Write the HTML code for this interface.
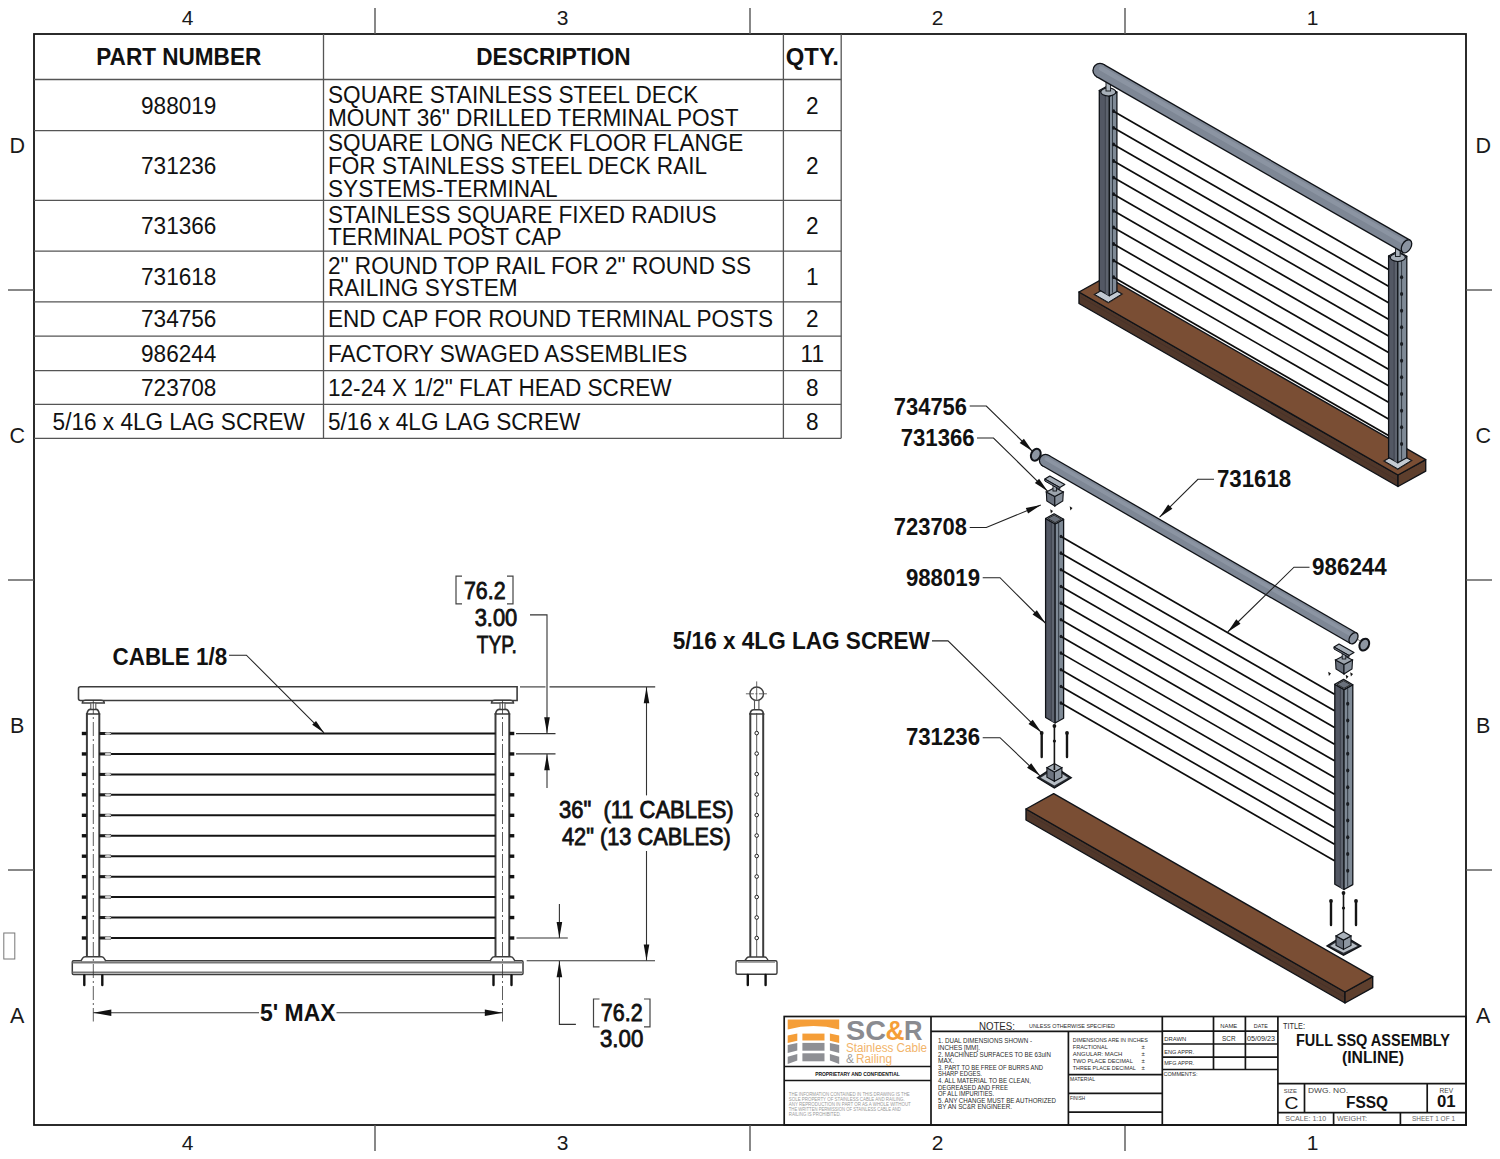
<!DOCTYPE html>
<html><head><meta charset="utf-8"><title>FULL SSQ ASSEMBLY</title>
<style>
html,body{margin:0;padding:0;background:#fff;width:1500px;height:1159px;overflow:hidden}
svg{display:block;font-family:"Liberation Sans", sans-serif}
</style></head><body>
<svg width="1500" height="1159" viewBox="0 0 1500 1159">
<rect x="0" y="0" width="1500" height="1159" fill="#fff"/>
<rect x="34" y="34" width="1432" height="1091" fill="none" stroke="#151515" stroke-width="1.8"/>
<line x1="375" y1="8" x2="375" y2="34" stroke="#555" stroke-width="1.4"/>
<line x1="375" y1="1125" x2="375" y2="1151" stroke="#555" stroke-width="1.4"/>
<line x1="750" y1="8" x2="750" y2="34" stroke="#555" stroke-width="1.4"/>
<line x1="750" y1="1125" x2="750" y2="1151" stroke="#555" stroke-width="1.4"/>
<line x1="1125" y1="8" x2="1125" y2="34" stroke="#555" stroke-width="1.4"/>
<line x1="1125" y1="1125" x2="1125" y2="1151" stroke="#555" stroke-width="1.4"/>
<line x1="8" y1="290" x2="34" y2="290" stroke="#555" stroke-width="1.4"/>
<line x1="1466" y1="290" x2="1492" y2="290" stroke="#555" stroke-width="1.4"/>
<line x1="8" y1="580" x2="34" y2="580" stroke="#555" stroke-width="1.4"/>
<line x1="1466" y1="580" x2="1492" y2="580" stroke="#555" stroke-width="1.4"/>
<line x1="8" y1="870" x2="34" y2="870" stroke="#555" stroke-width="1.4"/>
<line x1="1466" y1="870" x2="1492" y2="870" stroke="#555" stroke-width="1.4"/>
<text x="187.5" y="25" font-size="21" text-anchor="middle" fill="#1a1a1a">4</text>
<text x="187.5" y="1149.5" font-size="21" text-anchor="middle" fill="#1a1a1a">4</text>
<text x="562.5" y="25" font-size="21" text-anchor="middle" fill="#1a1a1a">3</text>
<text x="562.5" y="1149.5" font-size="21" text-anchor="middle" fill="#1a1a1a">3</text>
<text x="937.5" y="25" font-size="21" text-anchor="middle" fill="#1a1a1a">2</text>
<text x="937.5" y="1149.5" font-size="21" text-anchor="middle" fill="#1a1a1a">2</text>
<text x="1312.5" y="25" font-size="21" text-anchor="middle" fill="#1a1a1a">1</text>
<text x="1312.5" y="1149.5" font-size="21" text-anchor="middle" fill="#1a1a1a">1</text>
<text x="17.2" y="152.8" font-size="21.5" text-anchor="middle" fill="#1a1a1a">D</text>
<text x="1483.2" y="152.8" font-size="21.5" text-anchor="middle" fill="#1a1a1a">D</text>
<text x="17.2" y="442.8" font-size="21.5" text-anchor="middle" fill="#1a1a1a">C</text>
<text x="1483.2" y="442.8" font-size="21.5" text-anchor="middle" fill="#1a1a1a">C</text>
<text x="17.2" y="732.8" font-size="21.5" text-anchor="middle" fill="#1a1a1a">B</text>
<text x="1483.2" y="732.8" font-size="21.5" text-anchor="middle" fill="#1a1a1a">B</text>
<text x="17.2" y="1022.8" font-size="21.5" text-anchor="middle" fill="#1a1a1a">A</text>
<text x="1483.2" y="1022.8" font-size="21.5" text-anchor="middle" fill="#1a1a1a">A</text>
<rect x="3.8" y="933" width="11" height="26" fill="none" stroke="#777" stroke-width="1"/>
<line x1="323.5" y1="34" x2="323.5" y2="438.3" stroke="#555" stroke-width="1.3"/>
<line x1="783.4" y1="34" x2="783.4" y2="438.3" stroke="#555" stroke-width="1.3"/>
<line x1="841.2" y1="34" x2="841.2" y2="438.3" stroke="#555" stroke-width="1.3"/>
<line x1="34" y1="79.5" x2="841.2" y2="79.5" stroke="#555" stroke-width="1.3"/>
<line x1="34" y1="130.6" x2="841.2" y2="130.6" stroke="#555" stroke-width="1.3"/>
<line x1="34" y1="200.4" x2="841.2" y2="200.4" stroke="#555" stroke-width="1.3"/>
<line x1="34" y1="251.2" x2="841.2" y2="251.2" stroke="#555" stroke-width="1.3"/>
<line x1="34" y1="301.8" x2="841.2" y2="301.8" stroke="#555" stroke-width="1.3"/>
<line x1="34" y1="336.2" x2="841.2" y2="336.2" stroke="#555" stroke-width="1.3"/>
<line x1="34" y1="370.6" x2="841.2" y2="370.6" stroke="#555" stroke-width="1.3"/>
<line x1="34" y1="404.4" x2="841.2" y2="404.4" stroke="#555" stroke-width="1.3"/>
<line x1="34" y1="438.3" x2="841.2" y2="438.3" stroke="#555" stroke-width="1.3"/>
<text x="178.75" y="65" font-size="22.6" text-anchor="middle" font-weight="bold" fill="#111" textLength="165" lengthAdjust="spacingAndGlyphs" transform="matrix(1 0 0 1.07 0 -4.55)">PART NUMBER</text>
<text x="553.5" y="65" font-size="22.6" text-anchor="middle" font-weight="bold" fill="#111" transform="matrix(1 0 0 1.07 0 -4.55)">DESCRIPTION</text>
<text x="812.3" y="65" font-size="22.6" text-anchor="middle" font-weight="bold" fill="#111" textLength="53" lengthAdjust="spacingAndGlyphs" transform="matrix(1 0 0 1.07 0 -4.55)">QTY.</text>
<text x="178.75" y="114" font-size="22.6" text-anchor="middle" fill="#111" transform="matrix(1 0 0 1.07 0 -7.98)">988019</text>
<text x="328" y="103.4" font-size="22.6" fill="#111" transform="matrix(1 0 0 1.07 0 -7.24)">SQUARE STAINLESS STEEL DECK</text>
<text x="328" y="125.8" font-size="22.6" fill="#111" transform="matrix(1 0 0 1.07 0 -8.81)">MOUNT 36&quot; DRILLED TERMINAL POST</text>
<text x="812.3" y="114" font-size="22.6" text-anchor="middle" fill="#111" transform="matrix(1 0 0 1.07 0 -7.98)">2</text>
<text x="178.75" y="174" font-size="22.6" text-anchor="middle" fill="#111" transform="matrix(1 0 0 1.07 0 -12.18)">731236</text>
<text x="328" y="151.2" font-size="22.6" fill="#111" transform="matrix(1 0 0 1.07 0 -10.58)">SQUARE LONG NECK FLOOR FLANGE</text>
<text x="328" y="173.9" font-size="22.6" fill="#111" transform="matrix(1 0 0 1.07 0 -12.17)">FOR STAINLESS STEEL DECK RAIL</text>
<text x="328" y="196.6" font-size="22.6" fill="#111" transform="matrix(1 0 0 1.07 0 -13.76)">SYSTEMS-TERMINAL</text>
<text x="812.3" y="174" font-size="22.6" text-anchor="middle" fill="#111" transform="matrix(1 0 0 1.07 0 -12.18)">2</text>
<text x="178.75" y="234" font-size="22.6" text-anchor="middle" fill="#111" transform="matrix(1 0 0 1.07 0 -16.38)">731366</text>
<text x="328" y="222.8" font-size="22.6" fill="#111" transform="matrix(1 0 0 1.07 0 -15.6)">STAINLESS SQUARE FIXED RADIUS</text>
<text x="328" y="245.2" font-size="22.6" fill="#111" transform="matrix(1 0 0 1.07 0 -17.16)">TERMINAL POST CAP</text>
<text x="812.3" y="234" font-size="22.6" text-anchor="middle" fill="#111" transform="matrix(1 0 0 1.07 0 -16.38)">2</text>
<text x="178.75" y="285" font-size="22.6" text-anchor="middle" fill="#111" transform="matrix(1 0 0 1.07 0 -19.95)">731618</text>
<text x="328" y="273.6" font-size="22.6" fill="#111" transform="matrix(1 0 0 1.07 0 -19.15)">2&quot; ROUND TOP RAIL FOR 2&quot; ROUND SS</text>
<text x="328" y="296" font-size="22.6" fill="#111" transform="matrix(1 0 0 1.07 0 -20.72)">RAILING SYSTEM</text>
<text x="812.3" y="285" font-size="22.6" text-anchor="middle" fill="#111" transform="matrix(1 0 0 1.07 0 -19.95)">1</text>
<text x="178.75" y="327.5" font-size="22.6" text-anchor="middle" fill="#111" transform="matrix(1 0 0 1.07 0 -22.93)">734756</text>
<text x="328" y="327.5" font-size="22.6" fill="#111" transform="matrix(1 0 0 1.07 0 -22.93)">END CAP FOR ROUND TERMINAL POSTS</text>
<text x="812.3" y="327.5" font-size="22.6" text-anchor="middle" fill="#111" transform="matrix(1 0 0 1.07 0 -22.93)">2</text>
<text x="178.75" y="361.8" font-size="22.6" text-anchor="middle" fill="#111" transform="matrix(1 0 0 1.07 0 -25.33)">986244</text>
<text x="328" y="361.8" font-size="22.6" fill="#111" transform="matrix(1 0 0 1.07 0 -25.33)">FACTORY SWAGED ASSEMBLIES</text>
<text x="812.3" y="361.8" font-size="22.6" text-anchor="middle" fill="#111" transform="matrix(1 0 0 1.07 0 -25.33)">11</text>
<text x="178.75" y="395.7" font-size="22.6" text-anchor="middle" fill="#111" transform="matrix(1 0 0 1.07 0 -27.7)">723708</text>
<text x="328" y="395.7" font-size="22.6" fill="#111" transform="matrix(1 0 0 1.07 0 -27.7)">12-24 X 1/2&quot; FLAT HEAD SCREW</text>
<text x="812.3" y="395.7" font-size="22.6" text-anchor="middle" fill="#111" transform="matrix(1 0 0 1.07 0 -27.7)">8</text>
<text x="178.75" y="429.8" font-size="22.6" text-anchor="middle" fill="#111" transform="matrix(1 0 0 1.07 0 -30.09)">5/16 x 4LG LAG SCREW</text>
<text x="328" y="429.8" font-size="22.6" fill="#111" transform="matrix(1 0 0 1.07 0 -30.09)">5/16 x 4LG LAG SCREW</text>
<text x="812.3" y="429.8" font-size="22.6" text-anchor="middle" fill="#111" transform="matrix(1 0 0 1.07 0 -30.09)">8</text>
<polygon points="1079,292 1398,475 1398,486.5 1079,303.5" fill="#50372a" stroke="#101318" stroke-width="1.4" stroke-linejoin="round"/>
<polygon points="1398,475 1425.7,459.7 1425.7,471.2 1398,486.5" fill="#5e3f2d" stroke="#101318" stroke-width="1.4" stroke-linejoin="round"/>
<polygon points="1079,292 1398,475 1425.7,459.7 1106.7,276.7" fill="#7a4e34" stroke="#101318" stroke-width="1.4" stroke-linejoin="round"/>
<line x1="1081" y1="297.18" x2="1397" y2="480.18" stroke="#46302a" stroke-width="0.7"/>
<polygon points="1093.15,294.5 1108.3,303.57 1123.45,294 1108.3,285.43" fill="#2b2420" stroke="none" stroke-width="1" stroke-linejoin="round"/>
<polygon points="1094.65,294.5 1108.3,302.38 1121.95,294 1108.3,286.62" fill="#c3cad2" stroke="#101318" stroke-width="1"/>
<polygon points="1099.3,90.5 1109.3,96.24 1109.3,295.74 1099.3,290" fill="#535864" stroke="#101318" stroke-width="1.3" stroke-linejoin="round"/>
<polygon points="1105.3,94.94 1108.7,96.24 1108.7,295.74 1105.3,293.44" fill="#5d636e" stroke="none" stroke-width="1"/>
<line x1="1105.3" y1="94.94" x2="1105.3" y2="293.44" stroke="#3b404a" stroke-width="0.9"/>
<polygon points="1109.3,96.24 1116.9,92.03 1116.9,291.53 1109.3,295.74" fill="#7f8a96" stroke="#101318" stroke-width="1.3" stroke-linejoin="round"/>
<line x1="1112.49" y1="94.24" x2="1112.49" y2="292.74" stroke="#333b44" stroke-width="1"/>
<polygon points="1099.3,90.5 1109.3,96.24 1116.9,92.03 1106.9,86.3" fill="#9aa3ad" stroke="#101318" stroke-width="1.3" stroke-linejoin="round"/>
<line x1="1113.5" y1="111.2" x2="1388.5" y2="269.56" stroke="#0c0c0c" stroke-width="1.7"/>
<line x1="1113.5" y1="127.8" x2="1388.5" y2="286.16" stroke="#0c0c0c" stroke-width="1.7"/>
<line x1="1113.5" y1="144.4" x2="1388.5" y2="302.76" stroke="#0c0c0c" stroke-width="1.7"/>
<line x1="1113.5" y1="161" x2="1388.5" y2="319.36" stroke="#0c0c0c" stroke-width="1.7"/>
<line x1="1113.5" y1="177.6" x2="1388.5" y2="335.96" stroke="#0c0c0c" stroke-width="1.7"/>
<line x1="1113.5" y1="194.2" x2="1388.5" y2="352.56" stroke="#0c0c0c" stroke-width="1.7"/>
<line x1="1113.5" y1="210.8" x2="1388.5" y2="369.16" stroke="#0c0c0c" stroke-width="1.7"/>
<line x1="1113.5" y1="227.4" x2="1388.5" y2="385.76" stroke="#0c0c0c" stroke-width="1.7"/>
<line x1="1113.5" y1="244" x2="1388.5" y2="402.36" stroke="#0c0c0c" stroke-width="1.7"/>
<line x1="1113.5" y1="260.6" x2="1388.5" y2="418.96" stroke="#0c0c0c" stroke-width="1.7"/>
<line x1="1113.5" y1="277.2" x2="1388.5" y2="435.56" stroke="#0c0c0c" stroke-width="1.7"/>
<ellipse cx="1113.6" cy="111.2" rx="1.5" ry="1.9" fill="#14171c"/>
<ellipse cx="1113.6" cy="127.8" rx="1.5" ry="1.9" fill="#14171c"/>
<ellipse cx="1113.6" cy="144.4" rx="1.5" ry="1.9" fill="#14171c"/>
<ellipse cx="1113.6" cy="161" rx="1.5" ry="1.9" fill="#14171c"/>
<ellipse cx="1113.6" cy="177.6" rx="1.5" ry="1.9" fill="#14171c"/>
<ellipse cx="1113.6" cy="194.2" rx="1.5" ry="1.9" fill="#14171c"/>
<ellipse cx="1113.6" cy="210.8" rx="1.5" ry="1.9" fill="#14171c"/>
<ellipse cx="1113.6" cy="227.4" rx="1.5" ry="1.9" fill="#14171c"/>
<ellipse cx="1113.6" cy="244" rx="1.5" ry="1.9" fill="#14171c"/>
<ellipse cx="1113.6" cy="260.6" rx="1.5" ry="1.9" fill="#14171c"/>
<ellipse cx="1113.6" cy="277.2" rx="1.5" ry="1.9" fill="#14171c"/>
<polygon points="1382.65,461 1397.8,470.07 1412.95,460.5 1397.8,451.93" fill="#2b2420" stroke="none" stroke-width="1" stroke-linejoin="round"/>
<polygon points="1384.15,461 1397.8,468.88 1411.45,460.5 1397.8,453.12" fill="#c3cad2" stroke="#101318" stroke-width="1"/>
<polygon points="1388.6,256 1397.8,261.28 1397.8,462.78 1388.6,457.5" fill="#535864" stroke="#101318" stroke-width="1.3" stroke-linejoin="round"/>
<polygon points="1394.12,260.17 1397.2,261.28 1397.2,462.78 1394.12,460.67" fill="#5d636e" stroke="none" stroke-width="1"/>
<line x1="1394.12" y1="260.17" x2="1394.12" y2="460.67" stroke="#3b404a" stroke-width="0.9"/>
<polygon points="1397.8,261.28 1406.8,256.3 1406.8,457.8 1397.8,462.78" fill="#7f8a96" stroke="#101318" stroke-width="1.3" stroke-linejoin="round"/>
<line x1="1401.58" y1="259.28" x2="1401.58" y2="459.78" stroke="#333b44" stroke-width="1"/>
<polygon points="1388.6,256 1397.8,261.28 1406.8,256.3 1397.6,251.02" fill="#9aa3ad" stroke="#101318" stroke-width="1.3" stroke-linejoin="round"/>
<ellipse cx="1401.58" cy="277.3" rx="1.6" ry="2" fill="#1a1d22"/>
<ellipse cx="1401.58" cy="293.97" rx="1.6" ry="2" fill="#1a1d22"/>
<ellipse cx="1401.58" cy="310.64" rx="1.6" ry="2" fill="#1a1d22"/>
<ellipse cx="1401.58" cy="327.31" rx="1.6" ry="2" fill="#1a1d22"/>
<ellipse cx="1401.58" cy="343.98" rx="1.6" ry="2" fill="#1a1d22"/>
<ellipse cx="1401.58" cy="360.65" rx="1.6" ry="2" fill="#1a1d22"/>
<ellipse cx="1401.58" cy="377.32" rx="1.6" ry="2" fill="#1a1d22"/>
<ellipse cx="1401.58" cy="393.99" rx="1.6" ry="2" fill="#1a1d22"/>
<ellipse cx="1401.58" cy="410.66" rx="1.6" ry="2" fill="#1a1d22"/>
<ellipse cx="1401.58" cy="427.33" rx="1.6" ry="2" fill="#1a1d22"/>
<ellipse cx="1401.58" cy="444" rx="1.6" ry="2" fill="#1a1d22"/>
<ellipse cx="1108.3" cy="92" rx="7.5" ry="4" fill="#a7afb8" stroke="#101318" stroke-width="1.1"/>
<rect x="1106" y="82" width="4.6" height="9" fill="#aab2bb" stroke="#101318" stroke-width="0.9"/>
<ellipse cx="1397.8" cy="257.5" rx="7.5" ry="4" fill="#a7afb8" stroke="#101318" stroke-width="1.1"/>
<rect x="1395.5" y="247.5" width="4.6" height="9" fill="#aab2bb" stroke="#101318" stroke-width="0.9"/>
<line x1="1100" y1="70.5" x2="1406.5" y2="246.3" stroke="#101318" stroke-width="15.4"/>
<circle cx="1100" cy="70.5" r="7.7" fill="#101318"/>
<line x1="1100" y1="70.5" x2="1406.5" y2="246.3" stroke="#7e8795" stroke-width="12.8"/>
<circle cx="1100" cy="70.5" r="6.4" fill="#7e8795"/>
<line x1="1101.11" y1="68.56" x2="1405.88" y2="243.36" stroke="#97a0ad" stroke-width="4.48" stroke-linecap="round" opacity="0.55"/>
<ellipse cx="1406.5" cy="246.3" rx="4.47" ry="7.1" fill="#8a93a0" stroke="#101318" stroke-width="1.3" transform="rotate(30 1406.5 246.3)"/>
<polygon points="1026,809 1345,992 1345,1003 1026,820" fill="#50372a" stroke="#101318" stroke-width="1.4" stroke-linejoin="round"/>
<polygon points="1345,992 1372.7,976.7 1372.7,987.7 1345,1003" fill="#5e3f2d" stroke="#101318" stroke-width="1.4" stroke-linejoin="round"/>
<polygon points="1026,809 1345,992 1372.7,976.7 1053.7,793.7" fill="#7a4e34" stroke="#101318" stroke-width="1.4" stroke-linejoin="round"/>
<line x1="1028" y1="813.95" x2="1344" y2="996.95" stroke="#46302a" stroke-width="0.7"/>
<polygon points="1037.5,777.75 1054.4,788 1071.2,777.75 1054.4,766.5" fill="#2a2d33" stroke="#101318" stroke-width="1.4"/>
<polygon points="1040.7,777.75 1054.4,785.4 1068,777.75 1054.4,769.1" fill="#b7bec6" stroke="none" stroke-width="0.7"/>
<polygon points="1046.9,767.75 1054.4,771.95 1054.4,781.25 1046.9,777.25" fill="#6d7480" stroke="#101318" stroke-width="1.1"/>
<polygon points="1054.4,771.95 1061.9,767.75 1061.9,777.25 1054.4,781.25" fill="#8d96a1" stroke="#101318" stroke-width="1.1"/>
<polygon points="1046.9,767.75 1054.4,763.55 1061.9,767.75 1054.4,771.95" fill="#a9b1ba" stroke="#101318" stroke-width="1.1"/>
<polygon points="1327,945.9 1343.5,955.3 1360.8,945.9 1343.5,935.5" fill="#2a2d33" stroke="#101318" stroke-width="1.4"/>
<polygon points="1330.2,945.9 1343.5,952.7 1357.6,945.9 1343.5,938.1" fill="#b7bec6" stroke="none" stroke-width="0.7"/>
<polygon points="1336,935.9 1343.5,940.1 1343.5,949.4 1336,945.4" fill="#6d7480" stroke="#101318" stroke-width="1.1"/>
<polygon points="1343.5,940.1 1351,935.9 1351,945.4 1343.5,949.4" fill="#8d96a1" stroke="#101318" stroke-width="1.1"/>
<polygon points="1336,935.9 1343.5,931.7 1351,935.9 1343.5,940.1" fill="#a9b1ba" stroke="#101318" stroke-width="1.1"/>
<line x1="1041.7" y1="733" x2="1041.7" y2="757" stroke="#151515" stroke-width="2.4" stroke-linecap="round"/>
<circle cx="1041.7" cy="733" r="1.9" fill="#151515"/>
<line x1="1067" y1="733" x2="1067" y2="757" stroke="#151515" stroke-width="2.4" stroke-linecap="round"/>
<circle cx="1067" cy="733" r="1.9" fill="#151515"/>
<line x1="1054.4" y1="726" x2="1054.4" y2="770" stroke="#151515" stroke-width="1.6"/>
<circle cx="1054.4" cy="726" r="1.9" fill="#151515"/>
<circle cx="1054.4" cy="741" r="1.6" fill="#151515"/>
<line x1="1331" y1="901" x2="1331" y2="925" stroke="#151515" stroke-width="2.4" stroke-linecap="round"/>
<circle cx="1331" cy="901" r="1.9" fill="#151515"/>
<line x1="1356" y1="901" x2="1356" y2="925" stroke="#151515" stroke-width="2.4" stroke-linecap="round"/>
<circle cx="1356" cy="901" r="1.9" fill="#151515"/>
<line x1="1343.5" y1="893" x2="1343.5" y2="932" stroke="#151515" stroke-width="1.6"/>
<circle cx="1343.5" cy="893" r="1.9" fill="#151515"/>
<circle cx="1343.5" cy="908" r="1.6" fill="#151515"/>
<polygon points="1045.6,518.5 1055.1,523.95 1055.1,722.95 1045.6,717.5" fill="#535864" stroke="#101318" stroke-width="1.3" stroke-linejoin="round"/>
<polygon points="1051.3,522.77 1054.5,523.95 1054.5,722.95 1051.3,720.77" fill="#5d636e" stroke="none" stroke-width="1"/>
<line x1="1051.3" y1="522.77" x2="1051.3" y2="720.77" stroke="#3b404a" stroke-width="0.9"/>
<polygon points="1055.1,523.95 1063.6,519.25 1063.6,718.25 1055.1,722.95" fill="#7f8a96" stroke="#101318" stroke-width="1.3" stroke-linejoin="round"/>
<line x1="1058.67" y1="521.95" x2="1058.67" y2="719.95" stroke="#333b44" stroke-width="1"/>
<polygon points="1045.6,518.5 1055.1,523.95 1063.6,519.25 1054.1,513.8" fill="#9aa3ad" stroke="#101318" stroke-width="1.3" stroke-linejoin="round"/>
<polygon points="1047.8,518.5 1055.1,522.63 1061.4,519.25 1054.1,515.12" fill="#6a717c" stroke="#222" stroke-width="0.9"/>
<polygon points="1334.8,684.3 1344,689.58 1344,889.48 1334.8,884.2" fill="#535864" stroke="#101318" stroke-width="1.3" stroke-linejoin="round"/>
<polygon points="1340.32,688.47 1343.4,689.58 1343.4,889.48 1340.32,887.37" fill="#5d636e" stroke="none" stroke-width="1"/>
<line x1="1340.32" y1="688.47" x2="1340.32" y2="887.37" stroke="#3b404a" stroke-width="0.9"/>
<polygon points="1344,689.58 1352.8,684.71 1352.8,884.61 1344,889.48" fill="#7f8a96" stroke="#101318" stroke-width="1.3" stroke-linejoin="round"/>
<line x1="1347.7" y1="687.58" x2="1347.7" y2="886.48" stroke="#333b44" stroke-width="1"/>
<polygon points="1334.8,684.3 1344,689.58 1352.8,684.71 1343.6,679.43" fill="#9aa3ad" stroke="#101318" stroke-width="1.3" stroke-linejoin="round"/>
<polygon points="1337,684.3 1344,688.26 1350.6,684.71 1343.6,680.75" fill="#6a717c" stroke="#222" stroke-width="0.9"/>
<ellipse cx="1347.7" cy="703.7" rx="1.6" ry="2" fill="#1a1d22"/>
<ellipse cx="1347.7" cy="720.4" rx="1.6" ry="2" fill="#1a1d22"/>
<ellipse cx="1347.7" cy="737.1" rx="1.6" ry="2" fill="#1a1d22"/>
<ellipse cx="1347.7" cy="753.8" rx="1.6" ry="2" fill="#1a1d22"/>
<ellipse cx="1347.7" cy="770.5" rx="1.6" ry="2" fill="#1a1d22"/>
<ellipse cx="1347.7" cy="787.2" rx="1.6" ry="2" fill="#1a1d22"/>
<ellipse cx="1347.7" cy="803.9" rx="1.6" ry="2" fill="#1a1d22"/>
<ellipse cx="1347.7" cy="820.6" rx="1.6" ry="2" fill="#1a1d22"/>
<ellipse cx="1347.7" cy="837.3" rx="1.6" ry="2" fill="#1a1d22"/>
<ellipse cx="1347.7" cy="854" rx="1.6" ry="2" fill="#1a1d22"/>
<ellipse cx="1347.7" cy="870.7" rx="1.6" ry="2" fill="#1a1d22"/>
<line x1="1061" y1="536.5" x2="1334.5" y2="694.2" stroke="#0c0c0c" stroke-width="1.7"/>
<ellipse cx="1061" cy="536.5" rx="1.4" ry="1.8" fill="#14171c"/>
<line x1="1061" y1="553.16" x2="1334.5" y2="710.86" stroke="#0c0c0c" stroke-width="1.7"/>
<ellipse cx="1061" cy="553.16" rx="1.4" ry="1.8" fill="#14171c"/>
<line x1="1061" y1="569.82" x2="1334.5" y2="727.52" stroke="#0c0c0c" stroke-width="1.7"/>
<ellipse cx="1061" cy="569.82" rx="1.4" ry="1.8" fill="#14171c"/>
<line x1="1061" y1="586.48" x2="1334.5" y2="744.18" stroke="#0c0c0c" stroke-width="1.7"/>
<ellipse cx="1061" cy="586.48" rx="1.4" ry="1.8" fill="#14171c"/>
<line x1="1061" y1="603.14" x2="1334.5" y2="760.84" stroke="#0c0c0c" stroke-width="1.7"/>
<ellipse cx="1061" cy="603.14" rx="1.4" ry="1.8" fill="#14171c"/>
<line x1="1061" y1="619.8" x2="1334.5" y2="777.5" stroke="#0c0c0c" stroke-width="1.7"/>
<ellipse cx="1061" cy="619.8" rx="1.4" ry="1.8" fill="#14171c"/>
<line x1="1061" y1="636.46" x2="1334.5" y2="794.16" stroke="#0c0c0c" stroke-width="1.7"/>
<ellipse cx="1061" cy="636.46" rx="1.4" ry="1.8" fill="#14171c"/>
<line x1="1061" y1="653.12" x2="1334.5" y2="810.82" stroke="#0c0c0c" stroke-width="1.7"/>
<ellipse cx="1061" cy="653.12" rx="1.4" ry="1.8" fill="#14171c"/>
<line x1="1061" y1="669.78" x2="1334.5" y2="827.48" stroke="#0c0c0c" stroke-width="1.7"/>
<ellipse cx="1061" cy="669.78" rx="1.4" ry="1.8" fill="#14171c"/>
<line x1="1061" y1="686.44" x2="1334.5" y2="844.14" stroke="#0c0c0c" stroke-width="1.7"/>
<ellipse cx="1061" cy="686.44" rx="1.4" ry="1.8" fill="#14171c"/>
<line x1="1061" y1="703.1" x2="1334.5" y2="860.8" stroke="#0c0c0c" stroke-width="1.7"/>
<ellipse cx="1061" cy="703.1" rx="1.4" ry="1.8" fill="#14171c"/>
<polygon points="1046.3,492 1054.8,496.5 1054.8,506 1046.8,501" fill="#6a717d" stroke="#101318" stroke-width="1.1"/>
<polygon points="1054.8,496.5 1063.3,492 1062.8,501 1054.8,506" fill="#868f9a" stroke="#101318" stroke-width="1.1"/>
<polygon points="1046.3,492 1054.8,487.5 1063.3,492 1054.8,496.5" fill="#9ca4ad" stroke="#101318" stroke-width="1.1"/>
<rect x="1053" y="483" width="3.6" height="8" fill="#9ba3ac" stroke="#101318" stroke-width="0.9"/>
<polygon points="1044.8,479 1049.8,476 1064.8,484.5 1059.8,487.5" fill="#a6aeb7" stroke="#101318" stroke-width="1.2" stroke-linejoin="round"/>
<polygon points="1044.8,479 1059.8,487.5 1059.8,489.5 1044.8,481" fill="#6c737f" stroke="#101318" stroke-width="1" stroke-linejoin="round"/>
<polygon points="1335.5,660 1344,664.5 1344,674 1336,669" fill="#6a717d" stroke="#101318" stroke-width="1.1"/>
<polygon points="1344,664.5 1352.5,660 1352,669 1344,674" fill="#868f9a" stroke="#101318" stroke-width="1.1"/>
<polygon points="1335.5,660 1344,655.5 1352.5,660 1344,664.5" fill="#9ca4ad" stroke="#101318" stroke-width="1.1"/>
<rect x="1342.2" y="651" width="3.6" height="8" fill="#9ba3ac" stroke="#101318" stroke-width="0.9"/>
<polygon points="1334,647 1339,644 1354,652.5 1349,655.5" fill="#a6aeb7" stroke="#101318" stroke-width="1.2" stroke-linejoin="round"/>
<polygon points="1334,647 1349,655.5 1349,657.5 1334,649" fill="#6c737f" stroke="#101318" stroke-width="1" stroke-linejoin="round"/>
<polygon points="1050.2,509.3 1053,511 1050.9,513.5" fill="#151515" stroke="none" stroke-width="1"/>
<polygon points="1069.7,506.3 1072.5,508 1070.4,510.5" fill="#151515" stroke="none" stroke-width="1"/>
<polygon points="1328.2,671.8 1331,673.5 1328.9,676" fill="#151515" stroke="none" stroke-width="1"/>
<polygon points="1345.7,674.8 1348.5,676.5 1346.4,679" fill="#151515" stroke="none" stroke-width="1"/>
<polygon points="1350.2,672.3 1353,674 1350.9,676.5" fill="#151515" stroke="none" stroke-width="1"/>
<line x1="1045.5" y1="460.5" x2="1353.5" y2="638.2" stroke="#101318" stroke-width="13.4"/>
<circle cx="1045.5" cy="460.5" r="6.7" fill="#101318"/>
<line x1="1045.5" y1="460.5" x2="1353.5" y2="638.2" stroke="#7e8795" stroke-width="10.8"/>
<circle cx="1045.5" cy="460.5" r="5.4" fill="#7e8795"/>
<line x1="1046.44" y1="458.86" x2="1352.71" y2="635.56" stroke="#97a0ad" stroke-width="3.78" stroke-linecap="round" opacity="0.55"/>
<ellipse cx="1353.5" cy="638.2" rx="3.89" ry="6.1" fill="#8a93a0" stroke="#101318" stroke-width="1.3" transform="rotate(30 1353.5 638.2)"/>
<ellipse cx="1035.8" cy="454.7" rx="4.6" ry="6.2" fill="#8d96a2" stroke="#101318" stroke-width="2" transform="rotate(25 1035.8 454.7)"/>
<ellipse cx="1364.3" cy="644.6" rx="4.6" ry="6.2" fill="#8d96a2" stroke="#101318" stroke-width="2" transform="rotate(25 1364.3 644.6)"/>
<line x1="1357.5" y1="639" x2="1360.5" y2="641.5" stroke="#444" stroke-width="0.8"/>
<text x="893.8" y="414.7" font-size="21.9" font-weight="bold" fill="#111" textLength="73.2" lengthAdjust="spacingAndGlyphs" transform="matrix(1 0 0 1.05 0 -20.74)">734756</text>
<text x="900.7" y="445.7" font-size="21.9" font-weight="bold" fill="#111" textLength="73.9" lengthAdjust="spacingAndGlyphs" transform="matrix(1 0 0 1.05 0 -22.29)">731366</text>
<text x="893.8" y="535.5" font-size="21.9" font-weight="bold" fill="#111" textLength="73.2" lengthAdjust="spacingAndGlyphs" transform="matrix(1 0 0 1.05 0 -26.78)">723708</text>
<text x="905.9" y="586.5" font-size="21.9" font-weight="bold" fill="#111" textLength="74.1" lengthAdjust="spacingAndGlyphs" transform="matrix(1 0 0 1.05 0 -29.33)">988019</text>
<text x="672.8" y="648.9" font-size="21.9" font-weight="bold" fill="#111" textLength="257.1" lengthAdjust="spacingAndGlyphs" transform="matrix(1 0 0 1.05 0 -32.45)">5/16 x 4LG LAG SCREW</text>
<text x="905.9" y="744.9" font-size="21.9" font-weight="bold" fill="#111" textLength="74.1" lengthAdjust="spacingAndGlyphs" transform="matrix(1 0 0 1.05 0 -37.25)">731236</text>
<text x="1216.9" y="487.3" font-size="21.9" font-weight="bold" fill="#111" textLength="74.3" lengthAdjust="spacingAndGlyphs" transform="matrix(1 0 0 1.05 0 -24.37)">731618</text>
<text x="1312" y="575" font-size="21.9" font-weight="bold" fill="#111" textLength="74.8" lengthAdjust="spacingAndGlyphs" transform="matrix(1 0 0 1.05 0 -28.75)">986244</text>
<polyline points="969.7,406 986.3,406 1032.5,451.3" fill="none" stroke="#222" stroke-width="1.1"/>
<polygon points="1032.5,451.3 1019.69,442.94 1023.89,438.66" fill="#111" stroke="none" stroke-width="1"/>
<polyline points="977,438 993.5,438 1047.7,491.3" fill="none" stroke="#222" stroke-width="1.1"/>
<polygon points="1047.7,491.3 1034.9,482.92 1039.11,478.64" fill="#111" stroke="none" stroke-width="1"/>
<polyline points="969.7,527.5 986.3,527.5 1040.8,505" fill="none" stroke="#222" stroke-width="1.1"/>
<polygon points="1040.8,505 1028.08,513.5 1025.79,507.95" fill="#111" stroke="none" stroke-width="1"/>
<polyline points="982.7,577.7 1000,577.7 1045.3,623" fill="none" stroke="#222" stroke-width="1.1"/>
<polygon points="1045.3,623 1032.57,614.51 1036.81,610.27" fill="#111" stroke="none" stroke-width="1"/>
<polyline points="932,640.9 948,640.9 1041.3,732.3" fill="none" stroke="#222" stroke-width="1.1"/>
<polygon points="1041.3,732.3 1028.49,723.95 1032.68,719.66" fill="#111" stroke="none" stroke-width="1"/>
<polyline points="982.7,737.7 1000,737.7 1040,775.8" fill="none" stroke="#222" stroke-width="1.1"/>
<polygon points="1040,775.8 1027.07,767.63 1031.21,763.28" fill="#111" stroke="none" stroke-width="1"/>
<polyline points="1214,479.3 1197.9,479.3 1159.6,517.2" fill="none" stroke="#222" stroke-width="1.1"/>
<polygon points="1159.6,517.2 1168.15,504.52 1172.37,508.78" fill="#111" stroke="none" stroke-width="1"/>
<polyline points="1309.5,567.2 1294,567.2 1227.7,632" fill="none" stroke="#222" stroke-width="1.1"/>
<polygon points="1227.7,632 1236.33,619.37 1240.52,623.66" fill="#111" stroke="none" stroke-width="1"/>
<path d="M 80.5 686.8 L 517.1 686.8 L 517.1 700.5 L 80.5 700.5 Q 78.5 700.5 78.5 698.5 L 78.5 688.8 Q 78.5 686.8 80.5 686.8 Z" fill="#fff" stroke="#3c3c3c" stroke-width="1.6"/>
<rect x="72.3" y="960.7" width="450.7" height="13.8" rx="1.2" fill="#fff" stroke="#3c3c3c" stroke-width="1.5"/>
<line x1="72.5" y1="962.6" x2="523" y2="962.6" stroke="#777" stroke-width="1.6"/>
<line x1="72.5" y1="972.4" x2="523" y2="972.4" stroke="#777" stroke-width="1.6"/>
<path d="M 82.3 703 Q 82.3 699.5 87.3 700.3 L 99.3 700.3 Q 104.3 699.5 104.3 703 Z" fill="#fff" stroke="#3c3c3c" stroke-width="1.5"/>
<rect x="90.8" y="703" width="5" height="7.5" fill="#fff" stroke="#555" stroke-width="1.1"/>
<path d="M 86.9 714 Q 87.9 708.5 91.3 709.5 L 95.3 709.5 Q 98.3 708.5 99.3 714 Z" fill="#fff" stroke="#3c3c3c" stroke-width="1.6"/>
<line x1="86.9" y1="713" x2="86.9" y2="957.5" stroke="#3c3c3c" stroke-width="2"/>
<line x1="99.3" y1="713" x2="99.3" y2="957.5" stroke="#3c3c3c" stroke-width="2"/>
<path d="M 80.8 961 L 82.8 958 Q 83.3 956.8 85.3 956.8 L 101.3 956.8 Q 103.3 956.8 103.8 958 L 105.8 961" fill="#fff" stroke="#3c3c3c" stroke-width="1.4"/>
<line x1="84.3" y1="975.5" x2="84.3" y2="985" stroke="#111" stroke-width="2.4" stroke-linecap="round"/>
<line x1="102.3" y1="975.5" x2="102.3" y2="985" stroke="#111" stroke-width="2.4" stroke-linecap="round"/>
<line x1="93.3" y1="700" x2="93.3" y2="1021.5" stroke="#333" stroke-width="0.8" stroke-dasharray="14 3 2 3"/>
<path d="M 491.5 703 Q 491.5 699.5 496.5 700.3 L 508.5 700.3 Q 513.5 699.5 513.5 703 Z" fill="#fff" stroke="#3c3c3c" stroke-width="1.5"/>
<rect x="500" y="703" width="5" height="7.5" fill="#fff" stroke="#555" stroke-width="1.1"/>
<path d="M 495.5 714 Q 496.5 708.5 500.5 709.5 L 504.5 709.5 Q 508.3 708.5 509.3 714 Z" fill="#fff" stroke="#3c3c3c" stroke-width="1.6"/>
<line x1="495.5" y1="713" x2="495.5" y2="957.5" stroke="#3c3c3c" stroke-width="2"/>
<line x1="509.3" y1="713" x2="509.3" y2="957.5" stroke="#3c3c3c" stroke-width="2"/>
<path d="M 490 961 L 492 958 Q 492.5 956.8 494.5 956.8 L 510.5 956.8 Q 512.5 956.8 513 958 L 515 961" fill="#fff" stroke="#3c3c3c" stroke-width="1.4"/>
<line x1="493.5" y1="975.5" x2="493.5" y2="985" stroke="#111" stroke-width="2.4" stroke-linecap="round"/>
<line x1="511.5" y1="975.5" x2="511.5" y2="985" stroke="#111" stroke-width="2.4" stroke-linecap="round"/>
<line x1="502.5" y1="700" x2="502.5" y2="1021.5" stroke="#333" stroke-width="0.8" stroke-dasharray="14 3 2 3"/>
<line x1="99.3" y1="733.5" x2="495.5" y2="733.5" stroke="#141414" stroke-width="2"/>
<line x1="99.3" y1="733.5" x2="111" y2="733.5" stroke="#1a1a1a" stroke-width="3"/>
<ellipse cx="108" cy="733.5" rx="3.2" ry="1.3" fill="#cfcfcf"/>
<line x1="81.8" y1="733.5" x2="86.5" y2="733.5" stroke="#111" stroke-width="3.4"/>
<line x1="509.5" y1="733.5" x2="514.3" y2="733.5" stroke="#111" stroke-width="3.4"/>
<line x1="99.3" y1="753.95" x2="495.5" y2="753.95" stroke="#141414" stroke-width="2"/>
<line x1="99.3" y1="753.95" x2="111" y2="753.95" stroke="#1a1a1a" stroke-width="3"/>
<ellipse cx="108" cy="753.95" rx="3.2" ry="1.3" fill="#cfcfcf"/>
<line x1="81.8" y1="753.95" x2="86.5" y2="753.95" stroke="#111" stroke-width="3.4"/>
<line x1="509.5" y1="753.95" x2="514.3" y2="753.95" stroke="#111" stroke-width="3.4"/>
<line x1="99.3" y1="774.4" x2="495.5" y2="774.4" stroke="#141414" stroke-width="2"/>
<line x1="99.3" y1="774.4" x2="111" y2="774.4" stroke="#1a1a1a" stroke-width="3"/>
<ellipse cx="108" cy="774.4" rx="3.2" ry="1.3" fill="#cfcfcf"/>
<line x1="81.8" y1="774.4" x2="86.5" y2="774.4" stroke="#111" stroke-width="3.4"/>
<line x1="509.5" y1="774.4" x2="514.3" y2="774.4" stroke="#111" stroke-width="3.4"/>
<line x1="99.3" y1="794.85" x2="495.5" y2="794.85" stroke="#141414" stroke-width="2"/>
<line x1="99.3" y1="794.85" x2="111" y2="794.85" stroke="#1a1a1a" stroke-width="3"/>
<ellipse cx="108" cy="794.85" rx="3.2" ry="1.3" fill="#cfcfcf"/>
<line x1="81.8" y1="794.85" x2="86.5" y2="794.85" stroke="#111" stroke-width="3.4"/>
<line x1="509.5" y1="794.85" x2="514.3" y2="794.85" stroke="#111" stroke-width="3.4"/>
<line x1="99.3" y1="815.3" x2="495.5" y2="815.3" stroke="#141414" stroke-width="2"/>
<line x1="99.3" y1="815.3" x2="111" y2="815.3" stroke="#1a1a1a" stroke-width="3"/>
<ellipse cx="108" cy="815.3" rx="3.2" ry="1.3" fill="#cfcfcf"/>
<line x1="81.8" y1="815.3" x2="86.5" y2="815.3" stroke="#111" stroke-width="3.4"/>
<line x1="509.5" y1="815.3" x2="514.3" y2="815.3" stroke="#111" stroke-width="3.4"/>
<line x1="99.3" y1="835.75" x2="495.5" y2="835.75" stroke="#141414" stroke-width="2"/>
<line x1="99.3" y1="835.75" x2="111" y2="835.75" stroke="#1a1a1a" stroke-width="3"/>
<ellipse cx="108" cy="835.75" rx="3.2" ry="1.3" fill="#cfcfcf"/>
<line x1="81.8" y1="835.75" x2="86.5" y2="835.75" stroke="#111" stroke-width="3.4"/>
<line x1="509.5" y1="835.75" x2="514.3" y2="835.75" stroke="#111" stroke-width="3.4"/>
<line x1="99.3" y1="856.2" x2="495.5" y2="856.2" stroke="#141414" stroke-width="2"/>
<line x1="99.3" y1="856.2" x2="111" y2="856.2" stroke="#1a1a1a" stroke-width="3"/>
<ellipse cx="108" cy="856.2" rx="3.2" ry="1.3" fill="#cfcfcf"/>
<line x1="81.8" y1="856.2" x2="86.5" y2="856.2" stroke="#111" stroke-width="3.4"/>
<line x1="509.5" y1="856.2" x2="514.3" y2="856.2" stroke="#111" stroke-width="3.4"/>
<line x1="99.3" y1="876.65" x2="495.5" y2="876.65" stroke="#141414" stroke-width="2"/>
<line x1="99.3" y1="876.65" x2="111" y2="876.65" stroke="#1a1a1a" stroke-width="3"/>
<ellipse cx="108" cy="876.65" rx="3.2" ry="1.3" fill="#cfcfcf"/>
<line x1="81.8" y1="876.65" x2="86.5" y2="876.65" stroke="#111" stroke-width="3.4"/>
<line x1="509.5" y1="876.65" x2="514.3" y2="876.65" stroke="#111" stroke-width="3.4"/>
<line x1="99.3" y1="897.1" x2="495.5" y2="897.1" stroke="#141414" stroke-width="2"/>
<line x1="99.3" y1="897.1" x2="111" y2="897.1" stroke="#1a1a1a" stroke-width="3"/>
<ellipse cx="108" cy="897.1" rx="3.2" ry="1.3" fill="#cfcfcf"/>
<line x1="81.8" y1="897.1" x2="86.5" y2="897.1" stroke="#111" stroke-width="3.4"/>
<line x1="509.5" y1="897.1" x2="514.3" y2="897.1" stroke="#111" stroke-width="3.4"/>
<line x1="99.3" y1="917.55" x2="495.5" y2="917.55" stroke="#141414" stroke-width="2"/>
<line x1="99.3" y1="917.55" x2="111" y2="917.55" stroke="#1a1a1a" stroke-width="3"/>
<ellipse cx="108" cy="917.55" rx="3.2" ry="1.3" fill="#cfcfcf"/>
<line x1="81.8" y1="917.55" x2="86.5" y2="917.55" stroke="#111" stroke-width="3.4"/>
<line x1="509.5" y1="917.55" x2="514.3" y2="917.55" stroke="#111" stroke-width="3.4"/>
<line x1="99.3" y1="938" x2="495.5" y2="938" stroke="#141414" stroke-width="2"/>
<line x1="99.3" y1="938" x2="111" y2="938" stroke="#1a1a1a" stroke-width="3"/>
<ellipse cx="108" cy="938" rx="3.2" ry="1.3" fill="#cfcfcf"/>
<line x1="81.8" y1="938" x2="86.5" y2="938" stroke="#111" stroke-width="3.4"/>
<line x1="509.5" y1="938" x2="514.3" y2="938" stroke="#111" stroke-width="3.4"/>
<line x1="93.3" y1="1012.7" x2="259" y2="1012.7" stroke="#333" stroke-width="1.1"/>
<line x1="336.5" y1="1012.7" x2="502.8" y2="1012.7" stroke="#333" stroke-width="1.1"/>
<polygon points="93.3,1012.7 111.3,1009.5 111.3,1015.9" fill="#111" stroke="none" stroke-width="1"/>
<polygon points="502.8,1012.7 484.8,1015.9 484.8,1009.5" fill="#111" stroke="none" stroke-width="1"/>
<text x="260" y="1021.2" font-size="23" font-weight="bold" fill="#111" textLength="75.6" lengthAdjust="spacingAndGlyphs">5' MAX</text>
<line x1="520" y1="686.9" x2="545.5" y2="686.9" stroke="#333" stroke-width="1.1"/>
<line x1="549.5" y1="686.9" x2="655.2" y2="686.9" stroke="#333" stroke-width="1.1"/>
<polyline points="530,614.9 547,614.9 547,733" fill="none" stroke="#333" stroke-width="1.1"/>
<polygon points="547,733.2 544.2,717.2 549.8,717.2" fill="#111" stroke="none" stroke-width="1"/>
<line x1="516" y1="733.6" x2="555.5" y2="733.6" stroke="#333" stroke-width="1.1"/>
<line x1="516" y1="753.9" x2="555.5" y2="753.9" stroke="#333" stroke-width="1.1"/>
<line x1="547" y1="754" x2="547" y2="788" stroke="#333" stroke-width="1.1"/>
<polygon points="547,754.2 549.8,770.2 544.2,770.2" fill="#111" stroke="none" stroke-width="1"/>
<line x1="559.4" y1="904" x2="559.4" y2="938" stroke="#333" stroke-width="1.1"/>
<polygon points="559.4,938 556.6,922 562.2,922" fill="#111" stroke="none" stroke-width="1"/>
<line x1="516.5" y1="938" x2="567.8" y2="938" stroke="#333" stroke-width="1.1"/>
<line x1="526.7" y1="960.7" x2="655" y2="960.7" stroke="#333" stroke-width="1.1"/>
<polyline points="559.4,961 559.4,1024.4 575.9,1024.4" fill="none" stroke="#333" stroke-width="1.1"/>
<polygon points="559.4,961.2 562.2,977.2 556.6,977.2" fill="#111" stroke="none" stroke-width="1"/>
<line x1="646.5" y1="687" x2="646.5" y2="795.4" stroke="#333" stroke-width="1.1"/>
<line x1="646.5" y1="851" x2="646.5" y2="960.7" stroke="#333" stroke-width="1.1"/>
<polygon points="646.5,687.2 649.3,703.2 643.7,703.2" fill="#111" stroke="none" stroke-width="1"/>
<polygon points="646.5,960.5 643.7,944.5 649.3,944.5" fill="#111" stroke="none" stroke-width="1"/>
<polyline points="462,576.2 456,576.2 456,603.9 462,603.9" fill="none" stroke="#444" stroke-width="1.2"/>
<polyline points="507,576.2 513,576.2 513,603.9 507,603.9" fill="none" stroke="#444" stroke-width="1.2"/>
<text x="464" y="599.1" font-size="22" fill="#111" textLength="41.6" lengthAdjust="spacingAndGlyphs" stroke="#111" stroke-width="0.75" transform="matrix(1 0 0 1.08 0 -47.93)">76.2</text>
<text x="474.7" y="625.8" font-size="22" fill="#111" textLength="42.6" lengthAdjust="spacingAndGlyphs" stroke="#111" stroke-width="0.75" transform="matrix(1 0 0 1.08 0 -50.06)">3.00</text>
<text x="476.8" y="653" font-size="22" fill="#111" textLength="40" lengthAdjust="spacingAndGlyphs" stroke="#111" stroke-width="0.75" transform="matrix(1 0 0 1.08 0 -52.24)">TYP.</text>
<polyline points="599.5,999 593.5,999 593.5,1026.9 599.5,1026.9" fill="none" stroke="#444" stroke-width="1.2"/>
<polyline points="644,999 650,999 650,1026.9 644,1026.9" fill="none" stroke="#444" stroke-width="1.2"/>
<text x="600.8" y="1021.4" font-size="22" fill="#111" textLength="41.8" lengthAdjust="spacingAndGlyphs" stroke="#111" stroke-width="0.75" transform="matrix(1 0 0 1.08 0 -81.71)">76.2</text>
<text x="600" y="1047.4" font-size="22" fill="#111" textLength="43.3" lengthAdjust="spacingAndGlyphs" stroke="#111" stroke-width="0.75" transform="matrix(1 0 0 1.08 0 -83.79)">3.00</text>
<text x="559" y="818.1" font-size="22" fill="#111" textLength="174.6" lengthAdjust="spacingAndGlyphs" stroke="#111" stroke-width="0.75" transform="matrix(1 0 0 1.08 0 -65.45)">36&quot;  (11 CABLES)</text>
<text x="562" y="845.3" font-size="22" fill="#111" textLength="168.7" lengthAdjust="spacingAndGlyphs" stroke="#111" stroke-width="0.75" transform="matrix(1 0 0 1.08 0 -67.62)">42&quot; (13 CABLES)</text>
<text x="112.5" y="664.8" font-size="22" font-weight="bold" fill="#111" textLength="114.7" lengthAdjust="spacingAndGlyphs" transform="matrix(1 0 0 1.08 0 -53.18)">CABLE 1/8</text>
<polyline points="229,655.2 246.4,655.2 324,732.8" fill="none" stroke="#222" stroke-width="1.1"/>
<polygon points="324,732.8 312.19,724.81 316.01,720.99" fill="#111" stroke="none" stroke-width="1"/>
<circle cx="756.7" cy="693.8" r="6.8" fill="#fff" stroke="#3c3c3c" stroke-width="1.4"/>
<line x1="745.9" y1="693.8" x2="767.1" y2="693.8" stroke="#555" stroke-width="0.9" stroke-dasharray="8 1.5 2 1.5"/>
<line x1="756.7" y1="681.4" x2="756.7" y2="706" stroke="#555" stroke-width="0.9"/>
<rect x="754.5" y="700.5" width="4.4" height="9.5" fill="#fff" stroke="#555" stroke-width="1.1"/>
<path d="M 750 714 Q 751 709 754.7 709.8 L 758.7 709.8 Q 762.5 709 763.5 714 Z" fill="#fff" stroke="#3c3c3c" stroke-width="1.6"/>
<line x1="750.3" y1="713" x2="750.3" y2="957.4" stroke="#3c3c3c" stroke-width="2"/>
<line x1="763.2" y1="713" x2="763.2" y2="957.4" stroke="#3c3c3c" stroke-width="2"/>
<line x1="756.7" y1="713" x2="756.7" y2="957.4" stroke="#444" stroke-width="0.9"/>
<circle cx="756.7" cy="733.1" r="1.8" fill="#fff" stroke="#222" stroke-width="1"/>
<circle cx="756.7" cy="753.59" r="1.8" fill="#fff" stroke="#222" stroke-width="1"/>
<circle cx="756.7" cy="774.08" r="1.8" fill="#fff" stroke="#222" stroke-width="1"/>
<circle cx="756.7" cy="794.57" r="1.8" fill="#fff" stroke="#222" stroke-width="1"/>
<circle cx="756.7" cy="815.06" r="1.8" fill="#fff" stroke="#222" stroke-width="1"/>
<circle cx="756.7" cy="835.55" r="1.8" fill="#fff" stroke="#222" stroke-width="1"/>
<circle cx="756.7" cy="856.04" r="1.8" fill="#fff" stroke="#222" stroke-width="1"/>
<circle cx="756.7" cy="876.53" r="1.8" fill="#fff" stroke="#222" stroke-width="1"/>
<circle cx="756.7" cy="897.02" r="1.8" fill="#fff" stroke="#222" stroke-width="1"/>
<circle cx="756.7" cy="917.51" r="1.8" fill="#fff" stroke="#222" stroke-width="1"/>
<circle cx="756.7" cy="938" r="1.8" fill="#fff" stroke="#222" stroke-width="1"/>
<path d="M 744.6 961 L 746.8 958 Q 747.5 957 749 957 L 764.5 957 Q 766 957 766.6 958 L 768.5 961" fill="#fff" stroke="#3c3c3c" stroke-width="1.4"/>
<rect x="736" y="960.8" width="41" height="13.4" rx="1.5" fill="#fff" stroke="#3c3c3c" stroke-width="1.4"/>
<line x1="738" y1="962.2" x2="775" y2="962.2" stroke="#888" stroke-width="1.3"/>
<line x1="747.8" y1="975" x2="747.8" y2="985" stroke="#111" stroke-width="2.4" stroke-linecap="round"/>
<line x1="765.6" y1="975" x2="765.6" y2="985" stroke="#111" stroke-width="2.4" stroke-linecap="round"/>
<rect x="784.2" y="1016.5" width="681.8" height="108.5" fill="none" stroke="#161616" stroke-width="1.7"/>
<line x1="931" y1="1016.5" x2="931" y2="1125" stroke="#161616" stroke-width="1.7"/>
<line x1="1068.4" y1="1031.3" x2="1068.4" y2="1125" stroke="#161616" stroke-width="1.7"/>
<line x1="1162.3" y1="1016.5" x2="1162.3" y2="1125" stroke="#161616" stroke-width="1.7"/>
<line x1="1213.5" y1="1016.5" x2="1213.5" y2="1069.5" stroke="#161616" stroke-width="1.7"/>
<line x1="1245.4" y1="1016.5" x2="1245.4" y2="1069.5" stroke="#161616" stroke-width="1.7"/>
<line x1="1277.9" y1="1016.5" x2="1277.9" y2="1125" stroke="#161616" stroke-width="1.7"/>
<line x1="1304.5" y1="1083.6" x2="1304.5" y2="1112.6" stroke="#161616" stroke-width="1.7"/>
<line x1="1427.2" y1="1083.6" x2="1427.2" y2="1112.6" stroke="#161616" stroke-width="1.7"/>
<line x1="1333.6" y1="1112.6" x2="1333.6" y2="1125" stroke="#161616" stroke-width="1.7"/>
<line x1="1400.4" y1="1112.6" x2="1400.4" y2="1125" stroke="#161616" stroke-width="1.7"/>
<line x1="784.2" y1="1066.5" x2="931" y2="1066.5" stroke="#161616" stroke-width="1.7"/>
<line x1="784.2" y1="1080.5" x2="931" y2="1080.5" stroke="#161616" stroke-width="1.7"/>
<line x1="931" y1="1031.3" x2="1162.3" y2="1031.3" stroke="#161616" stroke-width="1.7"/>
<line x1="1068.4" y1="1074.7" x2="1162.3" y2="1074.7" stroke="#161616" stroke-width="1.7"/>
<line x1="1068.4" y1="1093.3" x2="1162.3" y2="1093.3" stroke="#161616" stroke-width="1.7"/>
<line x1="1068.4" y1="1112.2" x2="1162.3" y2="1112.2" stroke="#161616" stroke-width="1.7"/>
<line x1="1162.3" y1="1031.2" x2="1277.9" y2="1031.2" stroke="#161616" stroke-width="1.7"/>
<line x1="1162.3" y1="1044" x2="1277.9" y2="1044" stroke="#161616" stroke-width="1.7"/>
<line x1="1162.3" y1="1057.1" x2="1277.9" y2="1057.1" stroke="#161616" stroke-width="1.7"/>
<line x1="1162.3" y1="1069.5" x2="1277.9" y2="1069.5" stroke="#161616" stroke-width="1.7"/>
<line x1="1277.9" y1="1083.6" x2="1466" y2="1083.6" stroke="#161616" stroke-width="1.7"/>
<line x1="1277.9" y1="1112.6" x2="1466" y2="1112.6" stroke="#161616" stroke-width="1.7"/>
<path d="M 787.7 1019.6 L 839.2 1019.6 L 839.2 1029.4 Q 813.5 1022.5 787.7 1029.4 Z" fill="#f59e38"/>
<polygon points="787.7,1035.5 797.3,1033.6 797.3,1040.8 787.7,1042.9" fill="#f59e38" stroke="none" stroke-width="1"/>
<polygon points="787.7,1045 797.3,1043 797.3,1050.6 787.7,1053" fill="#8e8f94" stroke="none" stroke-width="1"/>
<polygon points="787.7,1056.8 797.3,1054.1 797.3,1060.5 787.7,1064" fill="#8e8f94" stroke="none" stroke-width="1"/>
<polygon points="829.9,1033.6 839.2,1035.5 839.2,1042.9 829.9,1040.8" fill="#f59e38" stroke="none" stroke-width="1"/>
<polygon points="829.9,1043 839.2,1045 839.2,1053 829.9,1050.6" fill="#8e8f94" stroke="none" stroke-width="1"/>
<polygon points="829.9,1054.1 839.2,1056.8 839.2,1064 829.9,1060.5" fill="#8e8f94" stroke="none" stroke-width="1"/>
<rect x="802.4" y="1033.6" width="22.1" height="6.9" fill="#f59e38" stroke="none" stroke-width="1"/>
<rect x="802.4" y="1042.9" width="22.1" height="7.8" fill="#8e8f94" stroke="none" stroke-width="1"/>
<rect x="802.4" y="1053.3" width="22.1" height="8" fill="#8e8f94" stroke="none" stroke-width="1"/>
<text x="846" y="1040.3" font-size="28" font-weight="bold" fill="#8a8b90" textLength="40" lengthAdjust="spacingAndGlyphs">SC</text>
<text x="885.5" y="1040.3" font-size="28" font-weight="bold" fill="#f59e38" textLength="19" lengthAdjust="spacingAndGlyphs">&amp;</text>
<text x="904" y="1040.3" font-size="28" font-weight="bold" fill="#8a8b90" textLength="18.5" lengthAdjust="spacingAndGlyphs">R</text>
<text x="846" y="1052.3" font-size="12" fill="#f2b46a" textLength="81" lengthAdjust="spacingAndGlyphs">Stainless Cable</text>
<text x="846" y="1063" font-size="12" fill="#9a9a9a" textLength="8" lengthAdjust="spacingAndGlyphs">&amp;</text>
<text x="856" y="1063" font-size="12" fill="#f2b46a" textLength="36" lengthAdjust="spacingAndGlyphs">Railing</text>
<text x="857.5" y="1075.6" font-size="5.2" text-anchor="middle" font-weight="bold" fill="#111" textLength="84.6" lengthAdjust="spacingAndGlyphs">PROPRIETARY AND CONFIDENTIAL</text>
<text x="788.8" y="1095.8" font-size="4.6" fill="#9a9a9a" textLength="121" lengthAdjust="spacingAndGlyphs">THE INFORMATION CONTAINED IN THIS DRAWING IS THE</text>
<text x="788.8" y="1100.75" font-size="4.6" fill="#9a9a9a" textLength="116" lengthAdjust="spacingAndGlyphs">SOLE PROPERTY OF STAINLESS CABLE AND RAILING.</text>
<text x="788.8" y="1105.7" font-size="4.6" fill="#9a9a9a" textLength="122" lengthAdjust="spacingAndGlyphs">ANY REPRODUCTION IN PART OR AS A WHOLE WITHOUT</text>
<text x="788.8" y="1110.65" font-size="4.6" fill="#9a9a9a" textLength="112" lengthAdjust="spacingAndGlyphs">THE WRITTEN PERMISSION OF STAINLESS CABLE AND</text>
<text x="788.8" y="1115.6" font-size="4.6" fill="#9a9a9a" textLength="52" lengthAdjust="spacingAndGlyphs">RAILING IS PROHIBITED.</text>
<text x="978.9" y="1029.5" font-size="11.5" fill="#2a2a2a" textLength="36.1" lengthAdjust="spacingAndGlyphs">NOTES:</text>
<text x="1029" y="1028.3" font-size="5.6" fill="#2a2a2a" textLength="86" lengthAdjust="spacingAndGlyphs">UNLESS OTHERWISE SPECIFIED</text>
<text x="938" y="1043.3" font-size="7.4" fill="#2a2a2a" textLength="94" lengthAdjust="spacingAndGlyphs">1. DUAL DIMENSIONS SHOWN -</text>
<text x="938" y="1049.9" font-size="7.4" fill="#2a2a2a" textLength="42" lengthAdjust="spacingAndGlyphs">INCHES [MM].</text>
<text x="938" y="1056.5" font-size="7.4" fill="#2a2a2a" textLength="113" lengthAdjust="spacingAndGlyphs">2. MACHINED SURFACES TO BE 63uIN</text>
<text x="938" y="1063.1" font-size="7.4" fill="#2a2a2a" textLength="16" lengthAdjust="spacingAndGlyphs">MAX.</text>
<text x="938" y="1069.7" font-size="7.4" fill="#2a2a2a" textLength="105" lengthAdjust="spacingAndGlyphs">3. PART TO BE FREE OF BURRS AND</text>
<text x="938" y="1076.3" font-size="7.4" fill="#2a2a2a" textLength="44" lengthAdjust="spacingAndGlyphs">SHARP EDGES.</text>
<text x="938" y="1082.9" font-size="7.4" fill="#2a2a2a" textLength="93" lengthAdjust="spacingAndGlyphs">4. ALL MATERIAL TO BE CLEAN,</text>
<text x="938" y="1089.5" font-size="7.4" fill="#2a2a2a" textLength="70" lengthAdjust="spacingAndGlyphs">DEGREASED AND FREE</text>
<text x="938" y="1096.1" font-size="7.4" fill="#2a2a2a" textLength="56" lengthAdjust="spacingAndGlyphs">OF ALL IMPURITIES.</text>
<text x="938" y="1102.7" font-size="7.4" fill="#2a2a2a" textLength="118" lengthAdjust="spacingAndGlyphs">5. ANY CHANGE MUST BE AUTHORIZED</text>
<text x="938" y="1109.3" font-size="7.4" fill="#2a2a2a" textLength="74" lengthAdjust="spacingAndGlyphs">BY AN SC&amp;R ENGINEER.</text>
<text x="1072.8" y="1041.5" font-size="6" fill="#2a2a2a" textLength="75" lengthAdjust="spacingAndGlyphs">DIMENSIONS ARE IN INCHES</text>
<text x="1072.8" y="1048.5" font-size="6" fill="#2a2a2a" textLength="35" lengthAdjust="spacingAndGlyphs">FRACTIONAL</text>
<text x="1141.5" y="1048.8" font-size="6" fill="#2a2a2a">±</text>
<text x="1072.8" y="1055.5" font-size="6" fill="#2a2a2a" textLength="49.6" lengthAdjust="spacingAndGlyphs">ANGULAR: MACH</text>
<text x="1141.5" y="1055.8" font-size="6" fill="#2a2a2a">±</text>
<text x="1072.8" y="1062.5" font-size="6" fill="#2a2a2a" textLength="60" lengthAdjust="spacingAndGlyphs">TWO PLACE DECIMAL</text>
<text x="1141.5" y="1062.8" font-size="6" fill="#2a2a2a">±</text>
<text x="1072.8" y="1069.5" font-size="6" fill="#2a2a2a" textLength="63" lengthAdjust="spacingAndGlyphs">THREE PLACE DECIMAL</text>
<text x="1141.5" y="1069.8" font-size="6" fill="#2a2a2a">±</text>
<text x="1070" y="1081" font-size="5.2" fill="#2a2a2a" textLength="25" lengthAdjust="spacingAndGlyphs">MATERIAL</text>
<text x="1070" y="1099.6" font-size="5.2" fill="#2a2a2a" textLength="15" lengthAdjust="spacingAndGlyphs">FINISH</text>
<text x="1228.8" y="1027.6" font-size="5.8" text-anchor="middle" fill="#2a2a2a" textLength="17" lengthAdjust="spacingAndGlyphs">NAME</text>
<text x="1260.8" y="1027.6" font-size="5.8" text-anchor="middle" fill="#2a2a2a" textLength="14" lengthAdjust="spacingAndGlyphs">DATE</text>
<text x="1164.2" y="1041" font-size="6.2" fill="#2a2a2a" textLength="22" lengthAdjust="spacingAndGlyphs">DRAWN</text>
<text x="1228.8" y="1041" font-size="6.6" text-anchor="middle" fill="#2a2a2a" textLength="13.5" lengthAdjust="spacingAndGlyphs">SCR</text>
<text x="1261" y="1041" font-size="6.6" text-anchor="middle" fill="#2a2a2a" textLength="28" lengthAdjust="spacingAndGlyphs">05/09/23</text>
<text x="1164.2" y="1053.6" font-size="6.2" fill="#2a2a2a" textLength="30" lengthAdjust="spacingAndGlyphs">ENG APPR.</text>
<text x="1164.2" y="1065" font-size="6.2" fill="#2a2a2a" textLength="30" lengthAdjust="spacingAndGlyphs">MFG APPR.</text>
<text x="1163.5" y="1076.2" font-size="5.8" fill="#2a2a2a" textLength="34" lengthAdjust="spacingAndGlyphs">COMMENTS:</text>
<text x="1283" y="1029.2" font-size="8.2" fill="#2a2a2a" textLength="22" lengthAdjust="spacingAndGlyphs">TITLE:</text>
<text x="1373" y="1045.7" font-size="16" text-anchor="middle" font-weight="bold" fill="#111" textLength="154" lengthAdjust="spacingAndGlyphs">FULL SSQ ASSEMBLY</text>
<text x="1373" y="1062.6" font-size="16" text-anchor="middle" font-weight="bold" fill="#111" textLength="62" lengthAdjust="spacingAndGlyphs">(INLINE)</text>
<text x="1283.8" y="1093.3" font-size="5.8" fill="#444" textLength="13" lengthAdjust="spacingAndGlyphs">SIZE</text>
<text x="1284.6" y="1108.9" font-size="17" fill="#111" textLength="14" lengthAdjust="spacingAndGlyphs">C</text>
<text x="1308" y="1092.8" font-size="6.5" fill="#444" textLength="40" lengthAdjust="spacingAndGlyphs">DWG.  NO.</text>
<text x="1367" y="1108.4" font-size="16" text-anchor="middle" font-weight="bold" fill="#111" textLength="42" lengthAdjust="spacingAndGlyphs">FSSQ</text>
<text x="1446.3" y="1092.8" font-size="6.5" text-anchor="middle" fill="#444" textLength="13.5" lengthAdjust="spacingAndGlyphs">REV</text>
<text x="1446.3" y="1107" font-size="16" text-anchor="middle" font-weight="bold" fill="#111" textLength="18.6" lengthAdjust="spacingAndGlyphs">01</text>
<text x="1285.2" y="1121.2" font-size="6.6" fill="#666" textLength="41" lengthAdjust="spacingAndGlyphs">SCALE: 1:10</text>
<text x="1337" y="1121.2" font-size="6.6" fill="#666" textLength="30" lengthAdjust="spacingAndGlyphs">WEIGHT:</text>
<text x="1455" y="1121.2" font-size="6.6" text-anchor="end" fill="#666" textLength="43" lengthAdjust="spacingAndGlyphs">SHEET 1 OF 1</text>
</svg>
</body></html>
